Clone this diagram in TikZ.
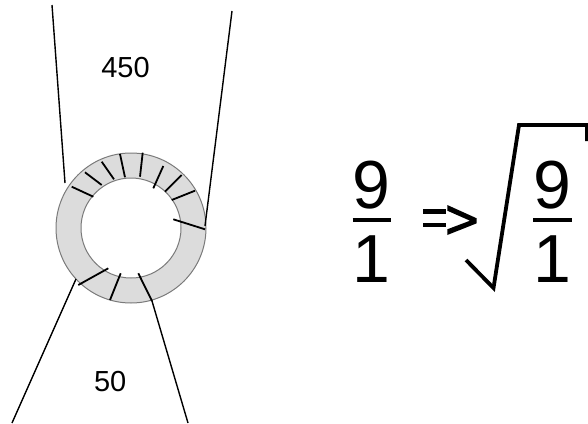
\documentclass[tikz,border=0pt]{standalone}
\usepackage{fontspec}
\setmainfont{Liberation Sans}
\definecolor{ringgray}{HTML}{DCDCDC}
\definecolor{ringedge}{HTML}{7A7A7A}
\begin{document}
\begin{tikzpicture}[x=1pt,y=-1pt,
  wire/.style={line width=1.4pt,black},
  tickline/.style={line width=1.8pt,black},
  lbl/.style={inner sep=0pt,font=\fontsize{29}{34}\selectfont},
  big/.style={inner sep=0pt,font=\fontsize{68}{80}\selectfont},
  fracbar/.style={line width=4pt,black},
  rootline/.style={line width=3.8pt,black,line join=miter,line cap=butt}]
\useasboundingbox (0,0) rectangle (588,423);
% ring
\coordinate (c) at (131,228);
\fill[ringgray,even odd rule] (c) circle[radius=75pt] (c) circle[radius=50pt];
\draw[ringedge,line width=1pt] (c) circle[radius=75pt] (c) circle[radius=50pt];
% ticks
\draw[tickline] (71.7,186.7) -- (93.3,196.7);
\draw[tickline] (85,172.3) -- (101.7,185);
\draw[tickline] (101.7,161.7) -- (114,179.3);
\draw[tickline] (120,154) -- (125,177.3);
\draw[tickline] (142.7,152.7) -- (140,176.7);
\draw[tickline] (163.3,166) -- (153.3,188.3);
\draw[tickline] (181.7,175) -- (165,191.7);
\draw[tickline] (195,190.7) -- (171.7,200);
\draw[tickline] (173.3,219.3) -- (205,229.3);
\draw[tickline] (108.3,268.3) -- (78.3,285);
\draw[tickline] (120.7,273.3) -- (110,300);
\draw[tickline] (138.3,273.3) -- (152,301);
% strings
\coordinate (ulT) at (52,5);   \coordinate (ulB) at (65,183);
\coordinate (urT) at (232,11); \coordinate (urB) at (205,226);
\coordinate (llT) at (76,279); \coordinate (llB) at (12,423);
\coordinate (lrT) at (152,301);\coordinate (lrB) at (188,423);
\draw[wire] (ulT) -- (ulB);
\draw[wire] (urT) -- (urB);
\draw[wire] (llT) -- (llB);
\draw[wire] (lrT) -- (lrB);
% labels
\node[lbl] (t450) at (125.5,67.5) {450};
\node[lbl] (t50) at (110.2,381.7) {50};
% first fraction
\node[big] (n1) at (371.8,185) {9};
\node[big] (d1) at (371.8,259) {1};
\coordinate (b1l) at (352.7,220); \coordinate (b1r) at (391,220);
\draw[fracbar] (b1l) -- (b1r);
% arrow
\fill (422.7,209.3) rectangle (446,214);
\fill (422.7,222.7) rectangle (446,227.3);
\fill (447.3,205) -- (476.7,218.3) -- (476.7,223.3) -- (447.3,235) -- (447.3,229.3) -- (470,220.7) -- (447.3,210.7) -- cycle;
% root
\coordinate (r0) at (466,260); \coordinate (r1) at (493.5,288);
\coordinate (r2) at (519,125); \coordinate (r3) at (587,125);
\coordinate (r4) at (587,141);
\draw[rootline] (r0) -- (r1) -- (r2) -- (r3) -- (r4);
% second fraction
\node[big] (n2) at (552.5,185) {9};
\node[big] (d2) at (552.5,259) {1};
\coordinate (b2l) at (533.3,220); \coordinate (b2r) at (571.7,220);
\draw[fracbar] (b2l) -- (b2r);
\end{tikzpicture}
\end{document}
